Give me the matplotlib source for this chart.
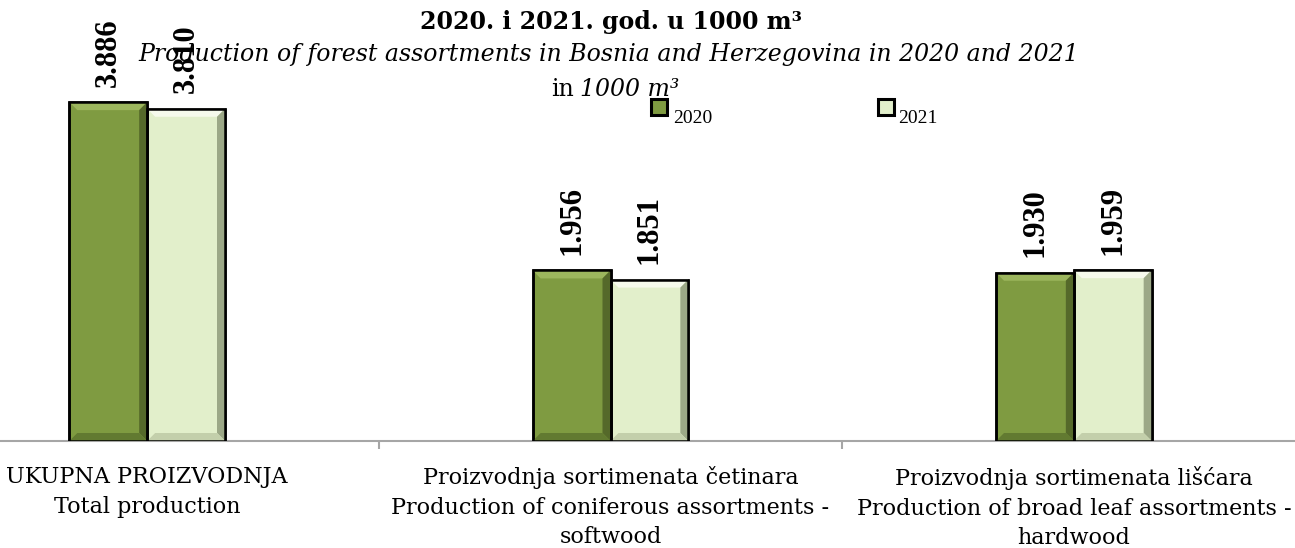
import matplotlib
matplotlib.use("Agg")
import matplotlib.pyplot as plt
import numpy as np
from matplotlib.patches import Polygon, Rectangle

# podaci
kategorije = ["UKUPNA PROIZVODNJA\nTotal production",
              "Proizvodnja sortimenata četinara\nProduction of coniferous assortments -\nsoftwood",
              "Proizvodnja sortimenata lišćara\nProduction of broad leaf assortments -\nhardwood"]
godine = ["2020", "2021"]
vrijednosti_2020 = [3.886, 1.956, 1.930]
vrijednosti_2021 = [3.810, 1.851, 1.959]
natpisi_2020 = ["3.886", "1.956", "1.930"]
natpisi_2021 = ["3.810", "1.851", "1.959"]

boje = {"2020": ("#7f9b41", "#9cb65d", "#55692a", "#627a31"),
        "2021": ("#e2efcb", "#f6faec", "#9ca887", "#c3cfab")}

W, H = 1295, 548
fig = plt.figure(figsize=(W / 100, H / 100), dpi=100)
ax = fig.add_axes([-84.5 / W, 107 / H, 1390 / W, 436 / H])
ax.set_xlim(-0.5, 2.5)
ax.set_ylim(0, 5)

x = np.arange(len(kategorije))
sirina = 0.168

# bevel (8 px) preveden u jedinice podataka
dx, dy = 8 * 3.0 / 1390, 8 * 5.0 / 436

for god, vals, natpisi, pomak in [("2020", vrijednosti_2020, natpisi_2020, -sirina / 2),
                                   ("2021", vrijednosti_2021, natpisi_2021, sirina / 2)]:
    lice, gore, desno, dolje = boje[god]
    bars = ax.bar(x + pomak, vals, sirina, color=lice, edgecolor="black", linewidth=1.8, zorder=3)
    for b, lab in zip(bars, natpisi):
        x0, w, h = b.get_x(), b.get_width(), b.get_height()
        ax.add_patch(Polygon([(x0, h), (x0 + w, h), (x0 + w - dx, h - dy), (x0 + dx, h - dy)],
                             closed=True, color=gore, lw=0, zorder=3.5))
        ax.add_patch(Polygon([(x0 + w, h), (x0 + w, 0), (x0 + w - dx, dy), (x0 + w - dx, h - dy)],
                             closed=True, color=desno, lw=0, zorder=3.5))
        ax.add_patch(Polygon([(x0, 0), (x0 + w, 0), (x0 + w - dx, dy), (x0 + dx, dy)],
                             closed=True, color=dolje, lw=0, zorder=3.5))
        ax.add_patch(Rectangle((x0, 0), w, h, fill=False, edgecolor="black", lw=1.8, zorder=4))
        ax.annotate(lab, xy=(x0 + w / 2, h), xytext=(0, 11), textcoords="offset points",
                    rotation=90, ha="center", va="bottom", fontsize=22, fontweight="bold",
                    family="Liberation Serif")

for s in ["left", "right", "top"]:
    ax.spines[s].set_visible(False)
ax.spines["bottom"].set_color("#a6a6a6")
ax.spines["bottom"].set_linewidth(1.5)
ax.set_yticks([])

ax.set_xticks(x)
ax.set_xticklabels(kategorije, family="DejaVu Serif", fontsize=16, linespacing=1.45)
ax.tick_params(axis="x", which="major", length=0, pad=18)
ax.set_xticks([0.5, 1.5], minor=True)
ax.tick_params(axis="x", which="minor", length=6, width=1.5, color="#a6a6a6")

# naslov
fig.text(611 / W, 1 - 22 / H, "2020. i 2021. god. u 1000 m³", ha="center", va="center",
         family="DejaVu Serif", fontweight="bold", fontsize=17)
fig.text(609 / W, 1 - 55 / H,
         "Production of forest assortments in Bosnia and Herzegovina in 2020 and 2021",
         ha="center", va="center", family="DejaVu Serif", style="italic", fontsize=17)
fig.text(574 / W, 1 - 90 / H, "in", ha="right", va="center", family="DejaVu Serif", fontsize=17)
fig.text(580 / W, 1 - 90 / H, "1000 m³", ha="left", va="center", family="DejaVu Serif",
         style="italic", fontsize=17)

# legenda
for god, lx, tx in [("2020", 651, 673), ("2021", 878, 898)]:
    fig.add_artist(Rectangle((lx / W, 1 - 115 / H), 16 / W, 16 / H, transform=fig.transFigure,
                             facecolor=boje[god][0], edgecolor="black", linewidth=2.2))
    fig.text(tx / W, 1 - 123 / H, god, ha="left", va="baseline", family="Liberation Serif",
             fontsize=14)

fig.savefig("out.png", dpi=100)
